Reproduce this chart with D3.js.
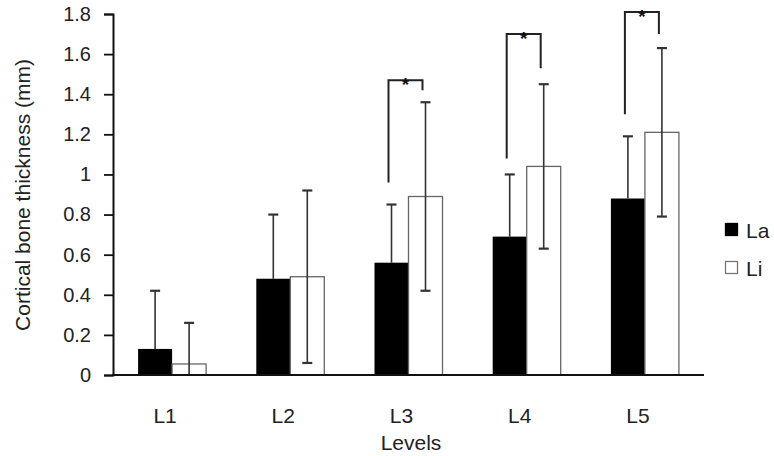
<!DOCTYPE html>
<html><head><meta charset="utf-8">
<script src="https://cdn.jsdelivr.net/npm/d3@7"></script>
<style>body{margin:0;background:#fff}svg{display:block;font-family:"Liberation Sans",Arial,sans-serif}</style>
</head><body><svg id="c" width="774" height="456"></svg>
<script>
const categories = ["L1","L2","L3","L4","L5"];
const seriesNames = ["La","Li"];
const laMean = [0.13,0.48,0.56,0.69,0.88];
const laSD   = [0.29,0.32,0.29,0.31,0.31];
const liMean = [0.055,0.49,0.89,1.04,1.21];
const liSD   = [0.205,0.43,0.47,0.41,0.42];
const yTicks = [0,0.2,0.4,0.6,0.8,1,1.2,1.4,1.6,1.8];
// significance brackets: [category, left bottom, top, right bottom]
const sigCats = ["L3","L4","L5"];
const sigLeft = [0.96,1.08,1.30];
const sigTop  = [1.47,1.70,1.81];
const sigRight= [1.42,1.53,1.70];

const svg = d3.select("#c");
const x0 = 113, x1 = 704;
const y = d3.scaleLinear().domain([0,1.8]).range([375,14]);
const xb = d3.scaleBand().domain(categories).range([x0,x1]);
const xs = d3.scaleBand().domain(seriesNames).range([-34,34]);

// y axis
const ya = svg.append("g").attr("transform",`translate(${x0},0)`)
  .call(d3.axisLeft(y).tickValues(yTicks).tickSize(9).tickPadding(13).tickFormat(d=>d3.format("")(d)));
ya.select(".domain").attr("stroke","#111").attr("stroke-width",2);
ya.selectAll(".tick line").attr("stroke","#111").attr("stroke-width",1.8);
ya.selectAll(".tick text").attr("font-size",20).attr("fill","#222").attr("font-family","Liberation Sans, Arial, sans-serif");

const data = categories.map((c,i)=>[{c,s:"La",m:laMean[i],sd:laSD[i]},{c,s:"Li",m:liMean[i],sd:liSD[i]}]).flat();

// bars
svg.append("g").selectAll("rect").data(data).join("rect")
  .attr("x",d=>xb(d.c)+xb.bandwidth()/2+xs(d.s))
  .attr("width",xs.bandwidth())
  .attr("y",d=>y(d.m))
  .attr("height",d=>y(0)-y(d.m))
  .attr("fill",d=>d.s==="La"?"#000":"#fff")
  .attr("stroke",d=>d.s==="La"?"#000":"#666")
  .attr("stroke-width",d=>d.s==="La"?0:1.3);

// error bars (La: upward only, hidden inside black bar; Li: both directions)
const eb = svg.append("g").attr("stroke","#333").attr("stroke-width",1.6);
data.forEach(d=>{
  const cx = xb(d.c)+xb.bandwidth()/2+xs(d.s)+xs.bandwidth()/2;
  const lo = d.s==="La" ? d.m : Math.max(0,d.m-d.sd), hi = d.m+d.sd;
  eb.append("line").attr("x1",cx).attr("x2",cx).attr("y1",y(lo)).attr("y2",y(hi));
  eb.append("line").attr("x1",cx-5).attr("x2",cx+5).attr("y1",y(hi)).attr("y2",y(hi)).attr("stroke-width",2.2);
  if(d.s==="Li" && d.m-d.sd>0.02) eb.append("line").attr("x1",cx-5).attr("x2",cx+5).attr("y1",y(lo)).attr("y2",y(lo)).attr("stroke-width",2.2);
});

// x axis
svg.append("line").attr("x1",x0-1).attr("x2",x1).attr("y1",y(0)).attr("y2",y(0)).attr("stroke","#111").attr("stroke-width",2.2);
svg.append("g").selectAll("text").data(categories).join("text")
  .attr("x",d=>xb(d)+xb.bandwidth()/2-7).attr("y",423)
  .attr("text-anchor","middle").attr("font-size",21).attr("fill","#222").text(d=>d);

// significance brackets
const sg = svg.append("g");
sigCats.forEach((c,i)=>{
  const xl = xb(c)+xb.bandwidth()/2+xs("La")+xs.bandwidth()/2-3;
  const xr = xb(c)+xb.bandwidth()/2+xs("Li")+xs.bandwidth()/2-3;
  sg.append("path").attr("fill","none").attr("stroke","#222").attr("stroke-width",2)
    .attr("d",`M${xl},${y(sigLeft[i])}V${y(sigTop[i])}H${xr}V${y(sigRight[i])}`);
  sg.append("text").attr("x",(xl+xr)/2).attr("y",y(sigTop[i])+11).attr("text-anchor","middle")
    .attr("font-size",19).attr("font-weight","bold").attr("fill","#111").text("*");
});

// axis titles
svg.append("text").attr("transform","translate(30,195) rotate(-90)").attr("text-anchor","middle")
  .attr("font-size",21).attr("fill","#222").text("Cortical bone thickness (mm)");
svg.append("text").attr("x",411).attr("y",450).attr("text-anchor","middle")
  .attr("font-size",21).attr("fill","#222").text("Levels");

// legend
const lg = svg.append("g");
seriesNames.forEach((s,i)=>{
  const yy = 223.5 + i*38;
  lg.append("rect").attr("x",725.5).attr("y",yy).attr("width",12).attr("height",12)
    .attr("fill",s==="La"?"#000":"#fff").attr("stroke",s==="La"?"#000":"#777").attr("stroke-width",1.3);
  lg.append("text").attr("x",746).attr("y",yy+14).attr("font-size",21).attr("fill","#222").text(s);
});
</script></body></html>
